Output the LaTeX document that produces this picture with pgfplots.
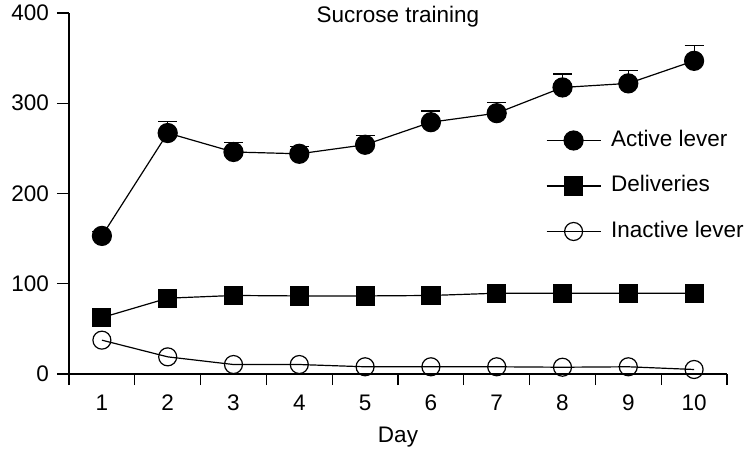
\documentclass[border=0pt]{standalone}
\usepackage{fontspec}
\setmainfont{Liberation Sans}
\usepackage{pgfplots}
\pgfplotsset{compat=1.18}
\begin{document}
\begin{tikzpicture}
\path[use as bounding box] (-69bp,-80bp) rectangle (680bp,374bp);
\begin{axis}[
  at={(0,0)}, anchor=south west,
  scale only axis, width=658bp, height=361bp,
  xmin=0.5, xmax=10.5, ymin=0, ymax=400,
  clip=false,
  axis x line*=bottom, axis y line*=left,
  axis line style={line width=1.2bp, black},
  xtick={1,...,10},
  minor xtick={0.5,1.5,...,10.5},
  ytick={0,100,...,400},
  tick align=outside,
  major tick length=12bp, minor tick length=11bp,
  tick style={line width=1.2bp, black},
  major x tick style={draw=none},
  /pgf/number format/assume math mode=true,
  tick label style={font=\fontsize{22.5bp}{27bp}\selectfont},
  xticklabel style={yshift=-5bp},
  yticklabel style={xshift=-4.5bp},
  label style={font=\fontsize{22.5bp}{27bp}\selectfont},
  xlabel={Day},
  xlabel style={at={(axis description cs:0.5,-0.1745)}, anchor=center},
  legend cell align=left,
  legend style={draw=none, fill=none, inner sep=0pt, outer sep=0pt,
    at={(axis description cs:0.7249,0.5208)}, anchor=west,
    font=\fontsize{22.5bp}{27bp}\selectfont,
    row sep=24.5bp,
    nodes={inner sep=0pt, text height=16.5bp, text depth=4.5bp},
    /tikz/every odd column/.append style={column sep=10bp}},
  legend image code/.code={\draw[mark repeat=2,mark phase=2,#1] plot coordinates {(0bp,0bp) (27bp,0bp) (54bp,0bp)};},
]
\addplot[black, line width=1.2bp, mark=*, mark size=9.5bp, mark options={fill=black, draw=black, solid},
  error bars/.cd, y dir=plus, y explicit,
  error bar style={line width=1.2bp, black},
  error mark options={rotate=90, mark size=9.5bp, line width=1.2bp, black}]
  coordinates {
  (1,153) +- (0,5)
  (2,267) +- (0,12.5)
  (3,246) +- (0,10.5)
  (4,244) +- (0,8.5)
  (5,254) +- (0,10)
  (6,279) +- (0,12.5)
  (7,289) +- (0,11.5)
  (8,317.5) +- (0,14.8)
  (9,322) +- (0,14.5)
  (10,347) +- (0,17.3)
};
\addlegendentry{Active lever}
\addplot[black, line width=1.2bp, mark=square*, mark size=9bp, mark options={fill=black, draw=black, solid}]
  coordinates {
  (1,62.5) (2,84) (3,87) (4,86.5) (5,86.5) (6,87) (7,89.5) (8,89.5) (9,89.5) (10,89.5)
};
\addlegendentry{Deliveries}
\addplot[black, line width=1.2bp, mark=o, mark size=9bp, mark options={draw=black, fill=none, solid}]
  coordinates {
  (1,37.5) (2,19) (3,10.5) (4,10.5) (5,8) (6,8) (7,8) (8,7.5) (9,8) (10,5)
};
\addlegendentry{Inactive lever}
\node[font=\fontsize{22.5bp}{27bp}\selectfont, anchor=center] at (axis description cs:0.5,0.989) {Sucrose training};
\end{axis}
\end{tikzpicture}
\end{document}
